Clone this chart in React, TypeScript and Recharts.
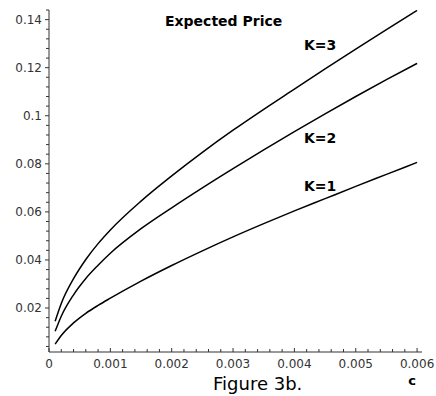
import React from 'react';
import { LineChart, Line, XAxis, YAxis } from 'recharts';

// c values (x) and expected price per K
const cValues = [0.0001, 0.0002, 0.0004, 0.0006, 0.0008, 0.001, 0.0015, 0.002, 0.0025, 0.003, 0.0035, 0.004, 0.0045, 0.005, 0.0055, 0.006];
const k1Values = [0.005, 0.0086, 0.0138, 0.0178, 0.0211, 0.0241, 0.0312, 0.0377, 0.0438, 0.0496, 0.0551, 0.0604, 0.0655, 0.0706, 0.0756, 0.0806];
const k2Values = [0.0103, 0.0166, 0.0255, 0.0323, 0.0378, 0.0428, 0.053, 0.0617, 0.07, 0.078, 0.0858, 0.0934, 0.1008, 0.108, 0.115, 0.1218];
const k3Values = [0.0145, 0.0219, 0.0322, 0.0402, 0.0468, 0.0525, 0.0645, 0.075, 0.0848, 0.094, 0.1027, 0.1111, 0.1195, 0.1277, 0.1358, 0.1438];

const xMajorTicks = [0, 0.001, 0.002, 0.003, 0.004, 0.005, 0.006];
const xMajorLabels = ['0', '0.001', '0.002', '0.003', '0.004', '0.005', '0.006'];
const xAllTicks = [
  0, 0.0002, 0.0004, 0.0006, 0.0008, 0.001, 0.0012, 0.0014, 0.0016, 0.0018, 0.002,
  0.0022, 0.0024, 0.0026, 0.0028, 0.003, 0.0032, 0.0034, 0.0036, 0.0038, 0.004,
  0.0042, 0.0044, 0.0046, 0.0048, 0.005, 0.0052, 0.0054, 0.0056, 0.0058, 0.006,
];

const yMajorTicks = [0.02, 0.04, 0.06, 0.08, 0.1, 0.12, 0.14];
const yMajorLabels = ['0.02', '0.04', '0.06', '0.08', '0.1', '0.12', '0.14'];
const yAllTicks = [
  0.004, 0.008, 0.012, 0.016, 0.02, 0.024, 0.028, 0.032, 0.036, 0.04, 0.044, 0.048,
  0.052, 0.056, 0.06, 0.064, 0.068, 0.072, 0.076, 0.08, 0.084, 0.088, 0.092, 0.096,
  0.1, 0.104, 0.108, 0.112, 0.116, 0.12, 0.124, 0.128, 0.132, 0.136, 0.14, 0.144,
];

const chartData = cValues.map((c, i) => ({
  c,
  k1: k1Values[i],
  k2: k2Values[i],
  k3: k3Values[i],
}));

const FONT = '"DejaVu Sans", sans-serif';

function majorIndex(list: number[], v: number) {
  return list.findIndex((m) => Math.abs(m - v) < 1e-9);
}

const XTick = (props: any) => {
  const { x, y, payload } = props;
  const idx = majorIndex(xMajorTicks, payload.value);
  return (
    <g>
      <line x1={x} y1={y} x2={x} y2={y - (idx >= 0 ? 4 : 3)} stroke="#333" />
      {idx >= 0 && (
        <text x={x} y={y + 16} textAnchor="middle" fontSize={12} fontFamily={FONT} fill="#333">
          {xMajorLabels[idx]}
        </text>
      )}
    </g>
  );
};

const YTick = (props: any) => {
  const { x, y, payload } = props;
  const idx = majorIndex(yMajorTicks, payload.value);
  return (
    <g>
      <line x1={x} y1={y} x2={x - (idx >= 0 ? 4 : 3)} y2={y} stroke="#333" />
      {idx >= 0 && (
        <text x={x - 7} y={y + 4} textAnchor="end" fontSize={12} fontFamily={FONT} fill="#333">
          {yMajorLabels[idx]}
        </text>
      )}
    </g>
  );
};

export default function App() {
  return (
    <div style={{ position: 'absolute', left: 0, top: 0, width: 436, height: 396, background: '#fff' }}>
      <LineChart
        width={436}
        height={396}
        data={chartData}
        margin={{ top: 10, right: 14, bottom: 0, left: 0 }}
      >
        <XAxis
          dataKey="c"
          type="number"
          domain={[0, 0.00608]}
          ticks={xAllTicks}
          interval={0}
          height={44}
          tickSize={0}
          tickMargin={0}
          tickLine={false}
          stroke="#333"
          tick={<XTick />}
        />
        <YAxis
          type="number"
          domain={[0.0017, 0.144]}
          ticks={yAllTicks}
          interval={0}
          width={49}
          tickSize={0}
          tickMargin={0}
          tickLine={false}
          stroke="#333"
          tick={<YTick />}
          allowDataOverflow
        />
        <Line type="monotone" dataKey="k1" stroke="#000" strokeWidth={1.5} dot={false} isAnimationActive={false} />
        <Line type="monotone" dataKey="k2" stroke="#000" strokeWidth={1.5} dot={false} isAnimationActive={false} />
        <Line type="monotone" dataKey="k3" stroke="#000" strokeWidth={1.5} dot={false} isAnimationActive={false} />
      </LineChart>
      <svg
        width={436}
        height={396}
        style={{ position: 'absolute', left: 0, top: 0, pointerEvents: 'none' }}
      >
        <text x={165} y={26} fontSize={14} fontWeight="bold" fontFamily={FONT} fill="#000">Expected Price</text>
        <text x={304} y={50} fontSize={14} fontWeight="bold" fontFamily={FONT} fill="#000">K=3</text>
        <text x={304} y={143} fontSize={14} fontWeight="bold" fontFamily={FONT} fill="#000">K=2</text>
        <text x={304} y={191} fontSize={14} fontWeight="bold" fontFamily={FONT} fill="#000">K=1</text>
        <text x={213} y={390} fontSize={18} fontFamily={FONT} fill="#000">Figure 3b.</text>
        <text x={412} y={385} fontSize={13} fontWeight="bold" textAnchor="middle" fontFamily={FONT} fill="#000">c</text>
      </svg>
    </div>
  );
}
